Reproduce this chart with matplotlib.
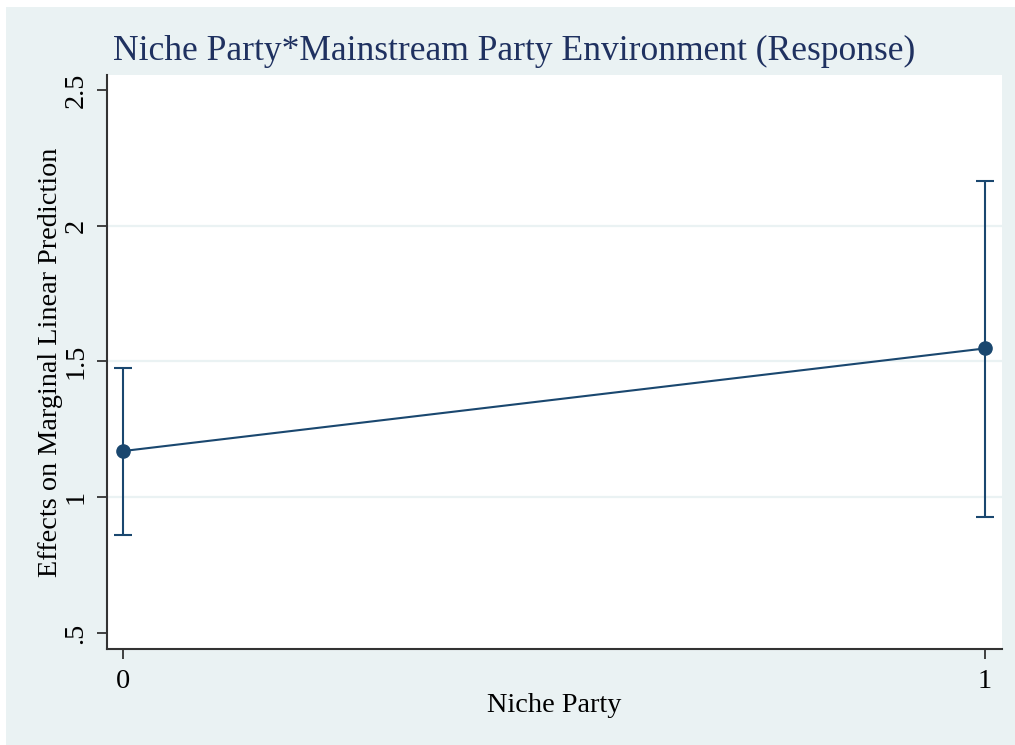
import matplotlib
matplotlib.use("Agg")
import matplotlib.pyplot as plt
from matplotlib.patches import Rectangle

# Marginal effects of niche party status
niche_party = [0, 1]
margin = [1.170, 1.548]
ci_low = [0.860, 0.926]
ci_high = [1.476, 2.166]

y_ticks = [0.5, 1.0, 1.5, 2.0, 2.5]
y_tick_labels = [".5", "1", "1.5", "2", "2.5"]
grid_vals = [1.0, 1.5, 2.0]
x_ticks = [0, 1]
x_tick_labels = ["0", "1"]

title = "Niche Party*Mainstream Party Environment (Response)"
xlabel = "Niche Party"
ylabel = "Effects on Marginal Linear Prediction"

navy = "#1a476f"
bg = "#eaf2f3"
axis_col = "#333333"
serif = ["Liberation Serif", "DejaVu Serif"]
fs = 20.3

W, H = 1015, 745
fig = plt.figure(figsize=(W / 100, H / 100), dpi=100)
fig.patch.set_facecolor("white")
fig.patches.append(Rectangle((6 / W, 0), 1 - 6 / W, 1 - 7 / H,
                             transform=fig.transFigure, facecolor=bg,
                             edgecolor="none", zorder=-5))

left, right, top, bottom = 107, 1002, 75, 649
ax = fig.add_axes([left / W, (H - bottom) / H, (right - left) / W, (bottom - top) / H])
ax.set_facecolor("white")

ax.set_xlim(-0.0186, 1.0197)
ax.set_ylim(0.441, 2.555)

for g in grid_vals:
    ax.axhline(g, color=bg, lw=1.6, zorder=1)

yerr = [[m - lo for m, lo in zip(margin, ci_low)],
        [hi - m for m, hi in zip(margin, ci_high)]]
ax.errorbar(niche_party, margin, yerr=yerr, fmt="none", ecolor=navy,
            elinewidth=1.5, capsize=6.5, capthick=1.5, zorder=3)
ax.plot(niche_party, margin, color=navy, lw=1.5, marker="o",
        markersize=9.5, markerfacecolor=navy, markeredgecolor=navy, zorder=4)

for s in ["top", "right"]:
    ax.spines[s].set_visible(False)
for s in ["left", "bottom"]:
    ax.spines[s].set_color(axis_col)
    ax.spines[s].set_linewidth(1.5)

ax.set_yticks(y_ticks)
ax.set_yticklabels(y_tick_labels, rotation=90, va="center",
                   family=serif, fontsize=fs)
ax.set_xticks(x_ticks)
ax.set_xticklabels(x_tick_labels, family=serif, fontsize=fs)
ax.tick_params(axis="both", direction="out", length=7, width=1.3,
               color=axis_col)
ax.tick_params(axis="x", pad=7.5)
ax.tick_params(axis="y", pad=6.5)

ax.set_xlabel(xlabel, family=serif, fontsize=fs, va="baseline")
ax.xaxis.set_label_coords(0.5, (bottom - 712) / (bottom - top))
ax.set_ylabel(ylabel, family=serif, fontsize=fs, va="baseline",
              rotation_mode="anchor")
ax.yaxis.set_label_coords((57 - left) / (right - left), 0.5)

fig.text(113 / W, 1 - 60 / H, title, family=serif, fontsize=25.6,
         color="#1f3160", ha="left", va="baseline")

fig.savefig("out.png", dpi=100, facecolor=fig.get_facecolor())
